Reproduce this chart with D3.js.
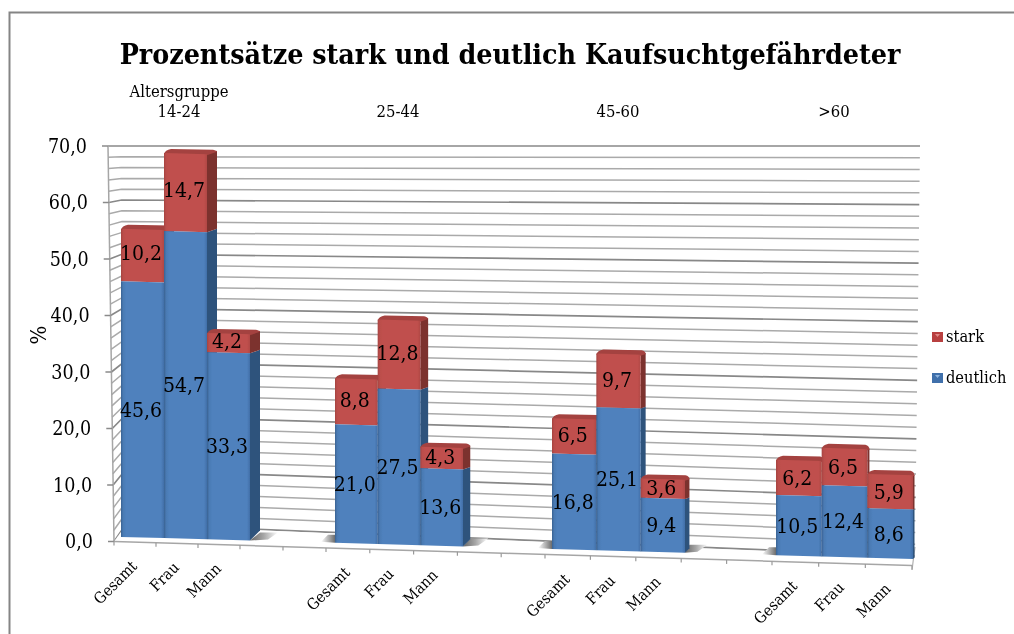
<!DOCTYPE html>
<html><head><meta charset="utf-8">
<script src="https://cdn.jsdelivr.net/npm/d3@7/dist/d3.min.js"></script>
<style>html,body{margin:0;padding:0;background:#fff}svg{display:block}
text{font-family:"DejaVu Serif Condensed","DejaVu Serif",serif;font-stretch:condensed;fill:#000}</style>
</head><body><svg id="c" width="1014" height="634"></svg>
<script>
const titleText = "Prozentsätze stark und deutlich Kaufsuchtgefährdeter";
const groupLabels = ["14-24", "25-44", "45-60", ">60"];
const groupHeading = "Altersgruppe";
const subCategories = ["Gesamt", "Frau", "Mann"];
const deutlich = [[45.6, 54.7, 33.3], [21.0, 27.5, 13.6], [16.8, 25.1, 9.4], [10.5, 12.4, 8.6]];
const stark = [[10.2, 14.7, 4.2], [8.8, 12.8, 4.3], [6.5, 9.7, 3.6], [6.2, 6.5, 5.9]];
const yTicks = [0, 10, 20, 30, 40, 50, 60, 70];
const gridValues = d3.range(0, 72, 2);
const legendItems = ["stark", "deutlich"];

const fmt = v => v.toFixed(1).replace(".", ",");
const svg = d3.select("#c");
const defs = svg.append("defs");
defs.append("filter").attr("id", "soft").attr("x", "-5%").attr("y", "-5%").attr("width", "110%").attr("height", "110%")
  .append("feGaussianBlur").attr("stdDeviation", 0.5);
defs.append("filter").attr("id", "softT").attr("x", "-5%").attr("y", "-5%").attr("width", "110%").attr("height", "110%")
  .append("feGaussianBlur").attr("stdDeviation", 0.3);
function hGrad(id, stops) {
  const g = defs.append("linearGradient").attr("id", id);
  stops.forEach(s => g.append("stop").attr("offset", s[0]).attr("stop-color", s[1]));
}
hGrad("blue", [[0, "#3a6292"], [0.05, "#4a7ab3"], [0.12, "#4f81bd"], [0.93, "#4f81bd"], [1, "#416fa8"]]);
hGrad("red", [[0, "#a54340"], [0.05, "#bb4e4b"], [0.12, "#c0504d"], [0.93, "#c0504d"], [1, "#b04845"]]);
hGrad("shR", [[0, "#666666"], [0.5, "#a8a8a8"], [1, "#ffffff"]]);
hGrad("shL", [[0, "#ffffff"], [0.55, "#b0b0b0"], [1, "#6c6c6c"]]);

// frame
svg.append("path").attr("d", "M1014,12.5H9.5V634").attr("fill", "none").attr("stroke", "#858585").attr("stroke-width", 2);

// scales (the picture is a perspective view, so several are piecewise)
const yAxisScale = d3.scaleLinear().domain([0, 70]).range([541.5, 146]);
const axisX = d3.scaleLinear().domain([0, 70]).range([114, 108]);
const backLeftX = d3.scaleLinear().domain([0, 70]).range([126, 121]);
const backLeftY = d3.scaleLinear().domain([0, 70]).range([524, 146]);
const backRightY = d3.scaleLinear().domain([0, 70]).range([556, 146]);
const backRightX = d3.scaleLinear().domain([0, 70]).range([915, 920]);
const tickX = d3.scaleLinear().domain([0, 3, 5, 10, 15, 18]).range([114, 240, 326, 545, 772, 912]);
const barX = d3.scaleLinear().domain([0, 3, 5, 8, 10, 13, 15, 18]).range([121, 250, 335, 463, 552, 685, 776, 913]);
const depth = d3.scaleLinear().domain([250, 913]).range([10, 1.5]);
const baseY = d3.scaleLinear().domain([125, 913]).range([537, 559]);
const floorY = d3.scaleLinear().domain([114, 912]).range([541.5, 565.5]);
const unit = d3.scaleLinear().domain([121, 913]).range([5.6, 5.75]);
const capExtra = d3.scaleLinear().domain([250, 913]).range([0, 5]).clamp(true);
const groupCenter = d3.scaleLinear().domain([0, 1, 2, 3]).range([179, 398, 618, 834]);

const chart = svg.append("g").attr("filter", "url(#soft)");

// grid
const line = d3.line();
chart.append("g").selectAll("path").data(gridValues).join("path")
  .attr("d", v => line([[axisX(v), yAxisScale(v)], [backLeftX(v), backLeftY(v)], [backRightX(v), backRightY(v)]]))
  .attr("fill", "none")
  .attr("stroke", v => v % 10 === 0 ? "#888888" : "#aaaaaa")
  .attr("stroke-width", v => v % 10 === 0 ? 1.7 : 1.5);

// floor
chart.append("path")
  .attr("d", line([[axisX(0), yAxisScale(0)], [backLeftX(0), backLeftY(0) + 1], [backRightX(0), backRightY(0) + 1], [912, 565.5]]) + "Z")
  .attr("fill", "#fff");
chart.append("path").attr("d", line([[tickX(0), floorY(tickX(0))], [912, 565.5]])).attr("stroke", "#a6a6a6").attr("stroke-width", 1.5).attr("fill", "none");
chart.append("path").attr("d", line([[912, 570], [915, 547]])).attr("stroke", "#b0b0b0").attr("stroke-width", 1.2).attr("fill", "none");
chart.append("path").attr("d", line([[axisX(0), yAxisScale(0)], [axisX(70), yAxisScale(70)]])).attr("stroke", "#a6a6a6").attr("stroke-width", 1.5).attr("fill", "none");

// y axis
const yAxisG = chart.append("g").call(d3.axisLeft(yAxisScale).tickValues(yTicks).tickSize(6).tickFormat(""));
yAxisG.select(".domain").remove();
yAxisG.selectAll(".tick").attr("transform", v => `translate(${axisX(v)},${yAxisScale(v)})`);
yAxisG.selectAll(".tick line").attr("stroke", "#8a8a8a").attr("stroke-width", 1.5);

// x ticks
const xAxisG = chart.append("g").call(d3.axisBottom(tickX).tickValues(d3.range(0, 19)).tickSize(4).tickFormat(""));
xAxisG.select(".domain").remove();
xAxisG.selectAll(".tick").attr("transform", i => `translate(${tickX(i)},${floorY(tickX(i))})`);
xAxisG.selectAll(".tick line").attr("stroke", "#9a9a9a").attr("stroke-width", 1.2);

// bars
const slots = [];
groupLabels.forEach((g, gi) => subCategories.forEach((c, ci) => slots.push({
  gi, ci, c, slot: gi * 5 + ci, d: deutlich[gi][ci], s: stark[gi][ci]
})));

// floor shadows either side of each group
groupLabels.forEach((g, gi) => {
  const first = barX(gi * 5), last = barX(gi * 5 + 3), dp = depth(Math.max(last, 250)), b = baseY(last);
  if (gi < 3) chart.append("path").attr("fill", "url(#shR)")
    .attr("d", line([[last, b], [last + dp, b - 8], [last + dp + 18, b - 8], [last + dp + 8, b - 1]]) + "Z");
  if (gi > 0) {
    const f = baseY(first);
    chart.append("path").attr("fill", "url(#shL)")
      .attr("d", line([[first - 14, f - 1], [first - 7, f - 8], [first, f - 8], [first, f]]) + "Z");
  }
});

const barG = chart.append("g");
slots.forEach(b => {
  const x0 = barX(b.slot), x1 = barX(b.slot + 1), dp = depth(Math.max(x1, 250));
  const b0 = baseY(x0), b1 = baseY(x1);
  const tip = dp * 0.35;
  const k = unit((x0 + x1) / 2), e = capExtra(x1);
  const cap = 4.5;
  const hd = b.d * k, ht = (b.d + b.s) * k + e;
  const yd0 = b0 - hd, yd1 = b1 - hd;
  const yt0 = b0 - ht + cap, yt1 = b1 - ht + cap;
  // sides
  barG.append("path").attr("fill", "#2f527c")
    .attr("d", line([[x1, b1], [x1 + dp, b1 - dp], [x1 + dp, yd1 - tip], [x1, yd1]]) + "Z");
  barG.append("path").attr("fill", "#7c302e")
    .attr("d", line([[x1, yd1], [x1 + dp, yd1 - tip], [x1 + dp, yt1 - tip], [x1, yt1]]) + "Z");
  // cap
  barG.append("path").attr("fill", "#a4423f")
    .attr("d", `M${x0},${yt0 + 1}Q${x0 + 1},${yt0 - 3} ${x0 + 7},${yt0 - cap + 0.5}L${x1 + dp - 4},${yt1 - cap}Q${x1 + dp},${yt1 - cap + 1} ${x1 + dp},${yt1 - tip + 1}L${x1},${yt1 + 1}Z`);
  // fronts
  barG.append("path").attr("fill", "url(#red)")
    .attr("d", line([[x0, yd0], [x1, yd1], [x1, yt1], [x0, yt0]]) + "Z");
  barG.append("path").attr("fill", "url(#blue)")
    .attr("d", line([[x0, b0], [x1, b1], [x1, yd1], [x0, yd0]]) + "Z");
  b.k = k;
});

// text
const tg = svg.append("g").attr("filter", "url(#softT)");
slots.forEach(b => {
  const x0 = barX(b.slot), x1 = barX(b.slot + 1), cx = (x0 + x1) / 2 - 1.5;
  const bm = baseY(cx);
  tg.append("text").attr("x", cx).attr("y", bm - b.d * b.k / 2 + 7).attr("text-anchor", "middle").attr("font-size", 21).text(fmt(b.d));
  tg.append("text").attr("x", cx).attr("y", bm - b.d * b.k - b.s * b.k / 2 + 7).attr("text-anchor", "middle").attr("font-size", 21).text(fmt(b.s));
  const tx = (tickX(b.slot) + tickX(b.slot + 1)) / 2 + 3;
  const ty = floorY(tx) + 25;
  tg.append("text").attr("transform", `translate(${tx},${ty}) rotate(-45)`).attr("text-anchor", "end").attr("font-size", 15.5).attr("fill", "#222").text(b.c);
});
yTicks.forEach(v => {
  tg.append("text").attr("x", axisX(v) - 21).attr("y", yAxisScale(v) + 6.5).attr("text-anchor", "end").attr("font-size", 19.5).text(fmt(v));
});
tg.append("text").attr("transform", "translate(46,335) rotate(-90)").attr("text-anchor", "middle").attr("font-size", 22).text("%");
tg.append("text").attr("x", 510).attr("y", 63.5).attr("text-anchor", "middle").attr("font-size", 28.3).attr("font-weight", "bold").text(titleText);
tg.append("text").attr("x", groupCenter(0)).attr("y", 96.5).attr("text-anchor", "middle").attr("font-size", 16.5).attr("fill", "#222").text(groupHeading);
groupLabels.forEach((g, i) => tg.append("text").attr("x", groupCenter(i)).attr("y", 116.7).attr("text-anchor", "middle").attr("font-size", 16.5).attr("fill", "#222").text(g));

// legend
const legendY = d3.scalePoint().domain(legendItems).range([337, 378]);
legendItems.forEach(k => {
  const y = legendY(k);
  tg.append("rect").attr("x", 932).attr("y", y - 5).attr("width", 11).attr("height", 10).attr("fill", k === "stark" ? "#b8413f" : "#3f70ab");
  tg.append("path").attr("d", line([[935, y - 3], [940, y - 3], [937.5, y]]) + "Z").attr("fill", k === "stark" ? "#e08a88" : "#8fb4de");
  tg.append("text").attr("x", 946).attr("y", y + 5).attr("font-size", 16.3).attr("fill", "#222").text(k);
});
</script></body></html>
